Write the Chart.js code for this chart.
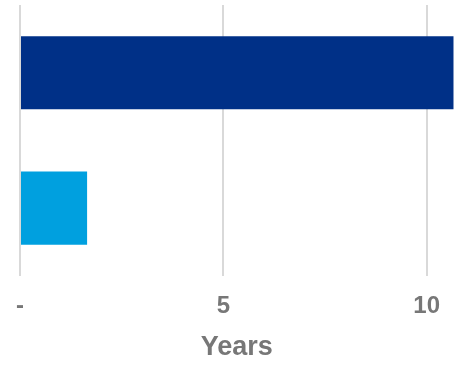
<!DOCTYPE html>
<html>
<head>
<meta charset="utf-8">
<script src="https://cdn.jsdelivr.net/npm/chart.js@4"></script>
<style>
  html, body { margin: 0; padding: 0; background: #fff; overflow: hidden; }
  #wrap { width: 456px; height: 365px; }
</style>
</head>
<body>
<div id="wrap"><canvas id="chart"></canvas></div>
<script>
const categories = ["Series A", "Series B"];
const yearValues = [10.7, 1.65];
const barColors = ["#003087", "#00a0df"];
const tickValues = [0, 5, 10];

const ctx = document.getElementById("chart").getContext("2d");

new Chart(ctx, {
  type: "bar",
  data: {
    labels: categories,
    datasets: [
      {
        data: yearValues,
        backgroundColor: barColors,
        borderWidth: 0,
        barPercentage: 0.54,
        categoryPercentage: 1,
      },
    ],
  },
  options: {
    indexAxis: "y",
    responsive: true,
    maintainAspectRatio: false,
    animation: false,
    layout: { padding: { top: 5, left: 20, right: 0, bottom: 0 } },
    plugins: {
      legend: { display: false },
      tooltip: { enabled: false },
    },
    scales: {
      x: {
        min: 0,
        max: 10.66,
        afterBuildTicks: (scale) => {
          scale.ticks = tickValues.map((v) => ({ value: v }));
        },
        grid: { color: "#d9d9d9", lineWidth: 2, drawTicks: false },
        border: { display: false },
        ticks: {
          padding: 16,
          color: "#777777",
          font: { family: "Liberation Sans, Arial, sans-serif", size: 24, weight: "bold" },
          callback: (value) => (value === 0 ? "-" : value),
        },
        title: {
          display: true,
          text: "Years",
          color: "#777777",
          padding: { top: -5, bottom: 1 },
          font: { family: "Liberation Sans, Arial, sans-serif", size: 27, weight: "bold" },
        },
      },
      y: { display: false },
    },
  },
});
</script>
</body>
</html>
